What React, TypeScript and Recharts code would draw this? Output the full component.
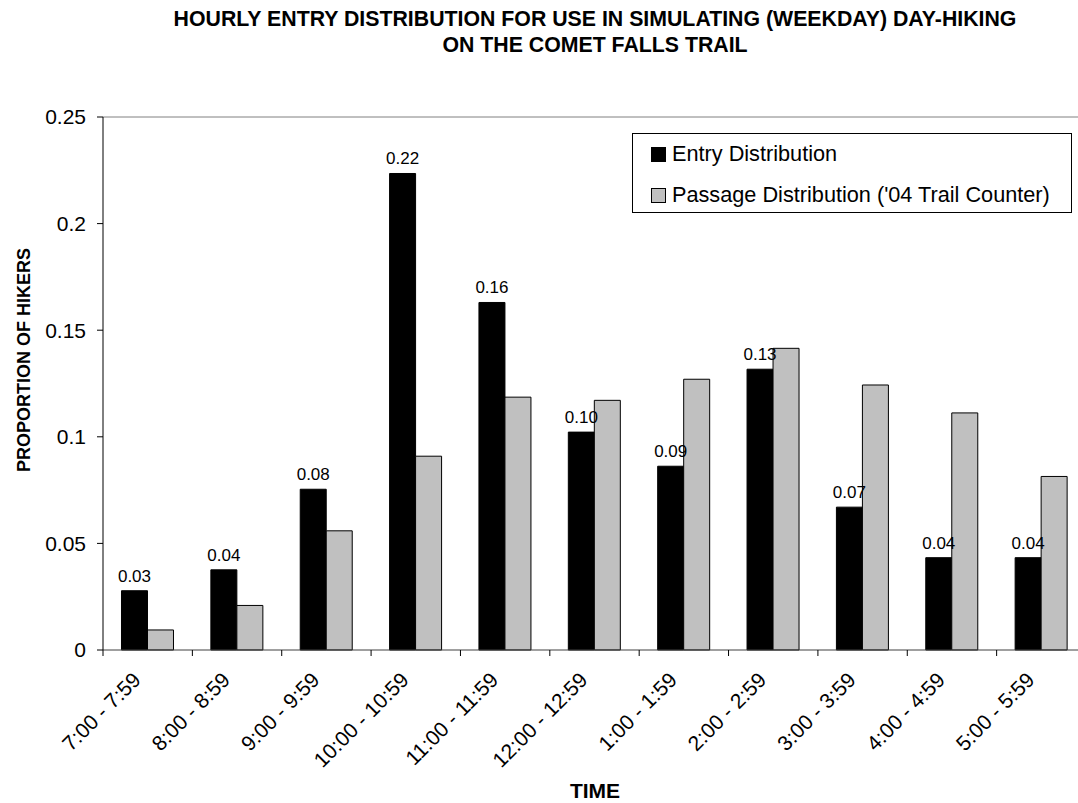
import React from "react";
import { BarChart, Bar, XAxis, YAxis, LabelList, ReferenceLine } from "recharts";

const categories = ["7:00 - 7:59", "8:00 - 8:59", "9:00 - 9:59", "10:00 - 10:59", "11:00 - 11:59", "12:00 - 12:59", "1:00 - 1:59", "2:00 - 2:59", "3:00 - 3:59", "4:00 - 4:59", "5:00 - 5:59"];
const entryValues = [0.0278, 0.0376, 0.0754, 0.2235, 0.163, 0.1022, 0.0862, 0.1317, 0.067, 0.0433, 0.0433];
const passageValues = [0.0094, 0.0209, 0.0559, 0.0909, 0.1186, 0.1171, 0.127, 0.1415, 0.1243, 0.1112, 0.0814];
const yTicks = [0, 0.05, 0.1, 0.15, 0.2, 0.25];
const seriesNames = ["Entry Distribution", "Passage Distribution ('04 Trail Counter)"];
const seriesColors = ["#000000", "#C0C0C0"];

const data = categories.map((c, i) => ({ cat: c, entry: entryValues[i], passage: passageValues[i] }));

const FONT = "Arial, 'Liberation Sans', Helvetica, sans-serif";
const TICK_SIZE = 6;
const TICK_MARGIN = 4;

const XTick = (props: any) => {
  const { x, y, payload } = props;
  const off = payload && typeof payload.offset === "number" ? payload.offset : 0;
  const lineX = x - off;
  return (
    <g>
      <line x1={lineX} x2={lineX} y1={y - TICK_SIZE - TICK_MARGIN} y2={y - TICK_MARGIN} stroke="#000" strokeWidth={1} />
      <text x={x} y={y} dx={-19} dy={11} textAnchor="end" transform={`rotate(-45, ${x}, ${y})`} fontSize={21} fontFamily={FONT} fill="#000">
        {payload.value}
      </text>
    </g>
  );
};

export default function App() {
  return (
    <div style={{ position: "absolute", left: 0, top: 0, width: 1078, height: 803, overflow: "hidden", background: "#fff", fontFamily: FONT }}>
      <div style={{ position: "absolute", left: 95, width: 1000, top: 6, textAlign: "center", fontWeight: "bold", fontSize: 21.3, lineHeight: "26px", color: "#000" }}>
        HOURLY ENTRY DISTRIBUTION FOR USE IN SIMULATING (WEEKDAY) DAY-HIKING
        <br />
        ON THE COMET FALLS TRAIL
      </div>
      <div style={{ position: "absolute", left: 24, top: 360, transform: "translate(-50%, -50%) rotate(-90deg)", fontWeight: "bold", fontSize: 18, whiteSpace: "nowrap", color: "#000" }}>
        PROPORTION OF HIKERS
      </div>
      <div style={{ position: "absolute", left: 595, top: 791, transform: "translate(-50%, -50%)", fontWeight: "bold", fontSize: 21, whiteSpace: "nowrap", color: "#000" }}>
        TIME
      </div>
      <BarChart
        width={1110}
        height={803}
        data={data}
        margin={{ top: 117, right: 24, left: 43, bottom: 33 }}
        barCategoryGap="20.7%"
        barGap={0}
        style={{ position: "absolute", left: 0, top: 0 }}
      >
        <XAxis
          dataKey="cat"
          height={120}
          interval={0}
          tickLine={false}
          tickSize={TICK_SIZE}
          tickMargin={TICK_MARGIN}
          axisLine={{ stroke: "#404040", strokeWidth: 1 }}
          tick={<XTick />}
        />
        <YAxis
          width={60}
          domain={[0, 0.25]}
          ticks={yTicks}
          interval={0}
          tickSize={TICK_SIZE}
          tickMargin={11}
          axisLine={{ stroke: "#000", strokeWidth: 1 }}
          tickLine={{ stroke: "#000", strokeWidth: 1 }}
          tick={{ fill: "#000", fontSize: 21, fontFamily: FONT }}
        />
        <ReferenceLine y={0.25} stroke="#808080" strokeWidth={1} ifOverflow="visible" />
        <Bar dataKey="entry" name={seriesNames[0]} fill={seriesColors[0]} stroke="#000" strokeWidth={1} isAnimationActive={false}>
          <LabelList dataKey="entry" position="top" offset={9} formatter={(v: any) => Number(v).toFixed(2)} style={{ fill: "#000", fontSize: 17, fontFamily: FONT }} />
        </Bar>
        <Bar dataKey="passage" name={seriesNames[1]} fill={seriesColors[1]} stroke="#000" strokeWidth={1} isAnimationActive={false} />
      </BarChart>
      <div style={{ position: "absolute", left: 632, top: 133, width: 438, height: 78, border: "1px solid #000", background: "#fff", fontSize: 21.7, color: "#000" }}>
        {seriesNames.map((n, i) => (
          <div key={n} style={{ position: "absolute", left: 18, top: 7 + i * 41, height: 26, display: "flex", alignItems: "center", whiteSpace: "nowrap" }}>
            <span style={{ display: "inline-block", width: 13, height: 13, background: seriesColors[i], border: "1px solid #000", marginRight: 6 }} />
            <span>{n}</span>
          </div>
        ))}
      </div>
    </div>
  );
}
